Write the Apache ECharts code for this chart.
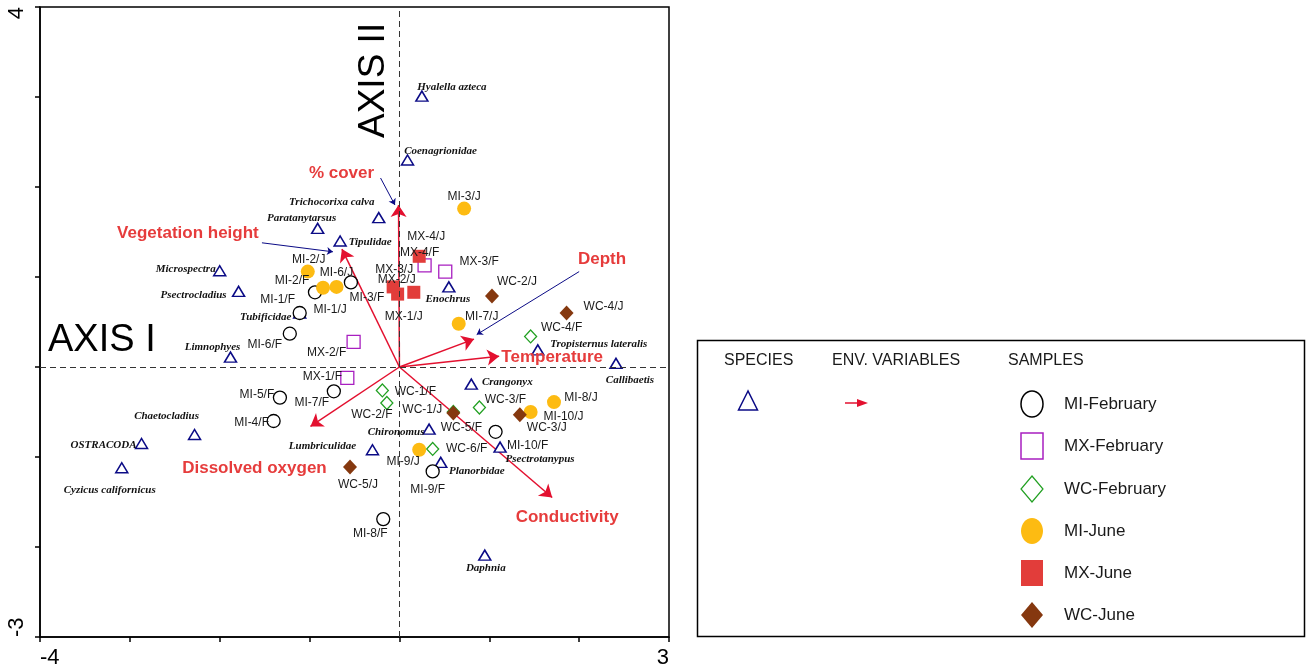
<!DOCTYPE html>
<html>
<head>
<meta charset="utf-8">
<script src="https://cdn.jsdelivr.net/npm/echarts@6/dist/echarts.min.js"></script>
<style>
html,body{margin:0;padding:0;background:#fff;}
#chart{width:1311px;height:669px;}
</style>
</head>
<body>
<div id="chart"></div>
<script>
// ---------- DATA ----------
const xTickLabels = ['-4', '3'];
const yTickLabels = ['4', '-3'];

const species = [
  ['Hyalella azteca', 0.25, 3.01],
  ['Coenagrionidae', 0.09, 2.30],
  ['Trichocorixa calva', -0.23, 1.66],
  ['Paratanytarsus', -0.91, 1.54],
  ['Tipulidae', -0.66, 1.40],
  ['Microspectra', -2.00, 1.07],
  ['Psectrocladius', -1.79, 0.84],
  ['Tubificidae', -1.11, 0.60],
  ['Limnophyes', -1.88, 0.11],
  ['Enochrus', 0.55, 0.89],
  ['Tropisternus lateralis', 1.54, 0.19],
  ['Callibaetis', 2.41, 0.04],
  ['Crangonyx', 0.80, -0.19],
  ['Chironomus', 0.33, -0.69],
  ['Lumbriculidae', -0.30, -0.92],
  ['Planorbidae', 0.46, -1.06],
  ['Psectrotanypus', 1.12, -0.89],
  ['Daphnia', 0.95, -2.09],
  ['Chaetocladius', -2.28, -0.75],
  ['OSTRACODA', -2.87, -0.85],
  ['Cyzicus californicus', -3.09, -1.12]
];

const miFebruary = [
  ['MI-1/F', -1.11, 0.60], ['MI-2/F', -0.94, 0.83], ['MI-3/F', -0.54, 0.94],
  ['MI-4/F', -1.40, -0.60], ['MI-5/F', -1.33, -0.34], ['MI-6/F', -1.22, 0.37],
  ['MI-7/F', -0.73, -0.27], ['MI-8/F', -0.18, -1.69], ['MI-9/F', 0.37, -1.16],
  ['MI-10/F', 1.07, -0.72]
];
const mxFebruary = [
  ['MX-1/F', -0.58, -0.12], ['MX-2/F', -0.51, 0.28], ['MX-3/F', 0.51, 1.06], ['MX-4/F', 0.28, 1.13]
];
const wcFebruary = [
  ['WC-1/F', -0.19, -0.26], ['WC-2/F', -0.14, -0.40], ['WC-3/F', 0.89, -0.45],
  ['WC-4/F', 1.46, 0.34], ['WC-5/F', 0.60, -0.50], ['WC-6/F', 0.37, -0.91]
];
const miJune = [
  ['MI-1/J', -0.85, 0.88], ['MI-2/J', -1.02, 1.06], ['MI-3/J', 0.72, 1.76],
  ['MI-6/J', -0.70, 0.89], ['MI-7/J', 0.66, 0.48], ['MI-8/J', 1.72, -0.39],
  ['MI-9/J', 0.22, -0.92], ['MI-10/J', 1.46, -0.50]
];
const mxJune = [
  ['MX-1/J', 0.16, 0.83], ['MX-2/J', -0.02, 0.81], ['MX-3/J', -0.07, 0.89], ['MX-4/J', 0.22, 1.23]
];
const wcJune = [
  ['WC-1/J', 0.60, -0.51], ['WC-2/J', 1.03, 0.79], ['WC-3/J', 1.34, -0.53],
  ['WC-4/J', 1.86, 0.60], ['WC-5/J', -0.55, -1.11]
];

const envVariables = [
  ['% cover', -0.01, 1.80],
  ['Vegetation height', -0.64, 1.31],
  ['Depth', 0.83, 0.31],
  ['Temperature', 1.11, 0.12],
  ['Conductivity', 1.70, -1.45],
  ['Dissolved oxygen', -0.99, -0.66]
];

// leader arrows from env labels to their vectors (data units: start, end)
const leaders = [
  [[-0.21, 2.10], [-0.05, 1.80]],
  [[-1.53, 1.38], [-0.74, 1.28]],
  [[2.00, 1.06], [0.86, 0.36]]
];

const sampleLegend = ['MI-February', 'MX-February', 'WC-February', 'MI-June', 'MX-June', 'WC-June'];

// ---------- LAYOUT (label offsets in px) ----------
const labelOffset = {
  'Hyalella azteca':[30,-9], 'Coenagrionidae':[33,-9], 'Trichocorixa calva':[-47,-15],
  'Paratanytarsus':[-16,-10], 'Tipulidae':[30,1], 'Microspectra':[-34,-2],
  'Psectrocladius':[-45,4], 'Tubificidae':[-34,4], 'Limnophyes':[-18,-10],
  'Enochrus':[-1,12], 'Tropisternus lateralis':[61,-6], 'Callibaetis':[14,17],
  'Crangonyx':[36,-2], 'Chironomus':[-33,3], 'Lumbriculidae':[-50,-4],
  'Planorbidae':[36,9], 'Psectrotanypus':[40,12], 'Daphnia':[1,13],
  'Chaetocladius':[-28,-18], 'OSTRACODA':[-38,2], 'Cyzicus californicus':[-12,22],
  'MI-1/F':[-22,-13], 'MI-2/F':[-23,-12], 'MI-3/F':[16,15], 'MI-4/F':[-22,2],
  'MI-5/F':[-23,-3], 'MI-6/F':[-25,11], 'MI-7/F':[-22,11], 'MI-8/F':[-13,15],
  'MI-9/F':[-5,18], 'MI-10/F':[32,14],
  'MX-1/F':[-25,-1], 'MX-2/F':[-27,11], 'MX-3/F':[34,-10], 'MX-4/F':[-5,-13],
  'WC-1/F':[33,1], 'WC-2/F':[-15,12], 'WC-3/F':[26,-8], 'WC-4/F':[31,-9],
  'WC-5/F':[8,16], 'WC-6/F':[34,0],
  'MI-1/J':[7,22], 'MI-2/J':[1,-12], 'MI-3/J':[0,-12], 'MI-6/J':[0,-14],
  'MI-7/J':[23,-7], 'MI-8/J':[27,-4], 'MI-9/J':[-16,12], 'MI-10/J':[33,5],
  'MX-1/J':[-10,24], 'MX-2/J':[-1,-14], 'MX-3/J':[1,-17], 'MX-4/J':[7,-20],
  'WC-1/J':[-31,-3], 'WC-2/J':[25,-14], 'WC-3/J':[27,13], 'WC-4/J':[37,-6], 'WC-5/J':[8,18],
  '% cover':[-57,-32], 'Vegetation height':[-154,-16], 'Depth':[128,-80],
  'Temperature':[53,1], 'Conductivity':[15,20], 'Dissolved oxygen':[-56,42]
};

const SANS = 'Liberation Sans, Arial, sans-serif';
const SERIF = 'Liberation Serif, Times New Roman, serif';

function toData(arr) {
  return arr.map(d => ({
    name: d[0],
    value: [d[1], d[2]],
    label: { offset: labelOffset[d[0]] || [0, 0] }
  }));
}

const noBorder = { textBorderWidth: 0, textBorderColor: 'transparent', textShadowBlur: 0 };

const sampleLabel = Object.assign({
  show: true, position: 'inside', formatter: '{b}',
  fontFamily: SANS, fontSize: 12, color: '#1a1a1a', align: 'center', verticalAlign: 'middle'
}, noBorder);

function sampleSeries(name, arr, symbol, size, fill, stroke, lw) {
  return {
    name: name, type: 'scatter', data: toData(arr), symbol: symbol, symbolSize: size, z: 4,
    itemStyle: { color: fill, borderColor: stroke, borderWidth: lw, opacity: 1 },
    label: sampleLabel, emphasis: { disabled: true }
  };
}

const chart = echarts.init(document.getElementById('chart'), null, { renderer: 'canvas' });

const ARROW_RED = '#e3102f';
const LABEL_RED = '#e63c3c';
const NAVY = '#0b0b86';

const option = {
  animation: false,
  backgroundColor: '#fff',
  grid: { left: 40, right: 642, top: 7, bottom: 32, show: true, borderColor: '#000', borderWidth: 1.5, backgroundColor: 'transparent' },
  xAxis: {
    type: 'value', min: -4, max: 3, interval: 1,
    axisLine: { show: true, onZero: false, lineStyle: { color: '#000', width: 1.5 } },
    axisTick: { show: true, inside: false, length: 5, lineStyle: { color: '#000', width: 1.5 } },
    splitLine: { show: false },
    axisLabel: {
      show: true, margin: 10, fontSize: 22, fontFamily: SANS, color: '#000',
      alignMinLabel: 'left', alignMaxLabel: 'right',
      formatter: v => xTickLabels.indexOf(String(v)) >= 0 ? String(v) : ''
    }
  },
  yAxis: {
    type: 'value', min: -3, max: 4, interval: 1,
    axisLine: { show: true, onZero: false, lineStyle: { color: '#000', width: 1.5 } },
    axisTick: { show: true, inside: false, length: 5, lineStyle: { color: '#000', width: 1.5 } },
    splitLine: { show: false },
    axisLabel: {
      show: true, margin: 12, rotate: 90, fontSize: 22, fontFamily: SANS, color: '#000',
      alignMinLabel: 'left', alignMaxLabel: 'right',
      formatter: v => yTickLabels.indexOf(String(v)) >= 0 ? String(v) : ''
    }
  },
  series: [
    {
      name: 'origin lines', type: 'scatter', data: [], z: 1,
      markLine: {
        silent: true, symbol: ['none', 'none'], animation: false,
        label: { show: false },
        lineStyle: { type: [6, 4], color: '#333', width: 1 },
        data: [{ xAxis: 0 }, { yAxis: 0 }]
      }
    },
    {
      name: 'env vectors', type: 'lines', coordinateSystem: 'cartesian2d', z: 3,
      symbol: ['none', 'arrow'], symbolSize: [9, 12],
      lineStyle: { color: ARROW_RED, width: 1.5, opacity: 1, curveness: 0 },
      data: envVariables.map(d => ({ coords: [[0, 0], [d[1], d[2]]] })),
      silent: true
    },
    {
      name: 'leaders', type: 'lines', coordinateSystem: 'cartesian2d', z: 3,
      symbol: ['none', 'arrow'], symbolSize: 6,
      lineStyle: { color: NAVY, width: 1, opacity: 1, curveness: 0 },
      data: leaders.map(d => ({ coords: d })),
      silent: true
    },
    {
      name: 'env labels', type: 'scatter', symbolSize: 0, z: 6,
      data: toData(envVariables),
      itemStyle: { color: LABEL_RED, opacity: 1 },
      label: Object.assign({
        show: true, position: 'inside', formatter: '{b}', fontFamily: SANS, fontWeight: 'bold',
        fontSize: 17, color: LABEL_RED, align: 'center', verticalAlign: 'middle', opacity: 1
      }, noBorder),
      emphasis: { disabled: true }, silent: true
    },
    {
      name: 'SPECIES', type: 'scatter', data: toData(species), symbol: 'triangle', symbolSize: [12, 10], z: 3,
      itemStyle: { color: '#fff', borderColor: NAVY, borderWidth: 1.5, opacity: 1 },
      label: Object.assign({
        show: true, position: 'inside', formatter: '{b}', fontFamily: SERIF, fontWeight: 'bold',
        fontStyle: 'italic', fontSize: 11, color: '#111', align: 'center', verticalAlign: 'middle', opacity: 1
      }, noBorder),
      emphasis: { disabled: true }
    },
    sampleSeries('MI-February', miFebruary, 'circle', 13, '#fff', '#000', 1.3),
    sampleSeries('MX-February', mxFebruary, 'rect', 13, '#fff', '#a81fc0', 1.3),
    sampleSeries('WC-February', wcFebruary, 'diamond', [12, 13], '#fff', '#22a022', 1.3),
    sampleSeries('MI-June', miJune, 'circle', 14, '#fdbb12', '#fdbb12', 0),
    sampleSeries('MX-June', mxJune, 'rect', 13, '#e23d3a', '#e23d3a', 0),
    sampleSeries('WC-June', wcJune, 'diamond', [14, 15], '#85380f', '#85380f', 0)
  ],
  graphic: []
};

// ---------- annotations and legend box ----------
const g = [];
g.push({ type: 'text', left: 48, top: 322, style: { text: 'AXIS I', font: '38px ' + SANS, fill: '#000' }, z: 10 });
g.push({ type: 'text', x: 355, y: 138, rotation: Math.PI / 2, style: { text: 'AXIS II', font: '37px ' + SANS, fill: '#000' }, z: 10 });

g.push({ type: 'rect', shape: { x: 697.5, y: 340.5, width: 607, height: 296 }, style: { fill: '#fff', stroke: '#000', lineWidth: 1.5 }, z: 10 });
const hdrFont = '16px ' + SANS;
g.push({ type: 'text', x: 724, y: 361, style: { text: 'SPECIES', font: hdrFont, fill: '#1a1a1a', textVerticalAlign: 'middle' }, z: 11 });
g.push({ type: 'text', x: 832, y: 361, style: { text: 'ENV. VARIABLES', font: hdrFont, fill: '#1a1a1a', textVerticalAlign: 'middle' }, z: 11 });
g.push({ type: 'text', x: 1008, y: 361, style: { text: 'SAMPLES', font: hdrFont, fill: '#1a1a1a', textVerticalAlign: 'middle' }, z: 11 });
g.push({ type: 'polygon', shape: { points: [[748, 391], [738.5, 410], [757.5, 410]] }, style: { fill: '#fff', stroke: NAVY, lineWidth: 1.5 }, z: 11 });
g.push({ type: 'line', shape: { x1: 845, y1: 403, x2: 860, y2: 403 }, style: { stroke: ARROW_RED, lineWidth: 1.5 }, z: 11 });
g.push({ type: 'polygon', shape: { points: [[857, 399], [868, 403], [857, 407]] }, style: { fill: ARROW_RED }, z: 11 });

const legendY = [404, 446, 489, 531, 573, 615];
const cx = 1032;
const legendShapes = [
  { type: 'ellipse', shape: { cx: cx, cy: 0, rx: 11, ry: 13 }, style: { fill: '#fff', stroke: '#000', lineWidth: 1.5 } },
  { type: 'rect', shape: { x: cx - 11, y: -13, width: 22, height: 26 }, style: { fill: '#fff', stroke: '#a81fc0', lineWidth: 1.5 } },
  { type: 'polygon', shape: { points: [[cx, -13], [cx + 11, 0], [cx, 13], [cx - 11, 0]] }, style: { fill: '#fff', stroke: '#22a022', lineWidth: 1.2 } },
  { type: 'ellipse', shape: { cx: cx, cy: 0, rx: 11, ry: 13 }, style: { fill: '#fdbb12' } },
  { type: 'rect', shape: { x: cx - 11, y: -13, width: 22, height: 26 }, style: { fill: '#e23d3a' } },
  { type: 'polygon', shape: { points: [[cx, -13], [cx + 11, 0], [cx, 13], [cx - 11, 0]] }, style: { fill: '#85380f' } }
];
sampleLegend.forEach((name, i) => {
  const s = JSON.parse(JSON.stringify(legendShapes[i]));
  s.y = legendY[i];
  s.z = 11;
  g.push(s);
  g.push({ type: 'text', x: 1064, y: legendY[i], style: { text: name, font: '17px ' + SANS, fill: '#1a1a1a', textVerticalAlign: 'middle' }, z: 11 });
});
option.graphic = g;

chart.setOption(option);
</script>
</body>
</html>
